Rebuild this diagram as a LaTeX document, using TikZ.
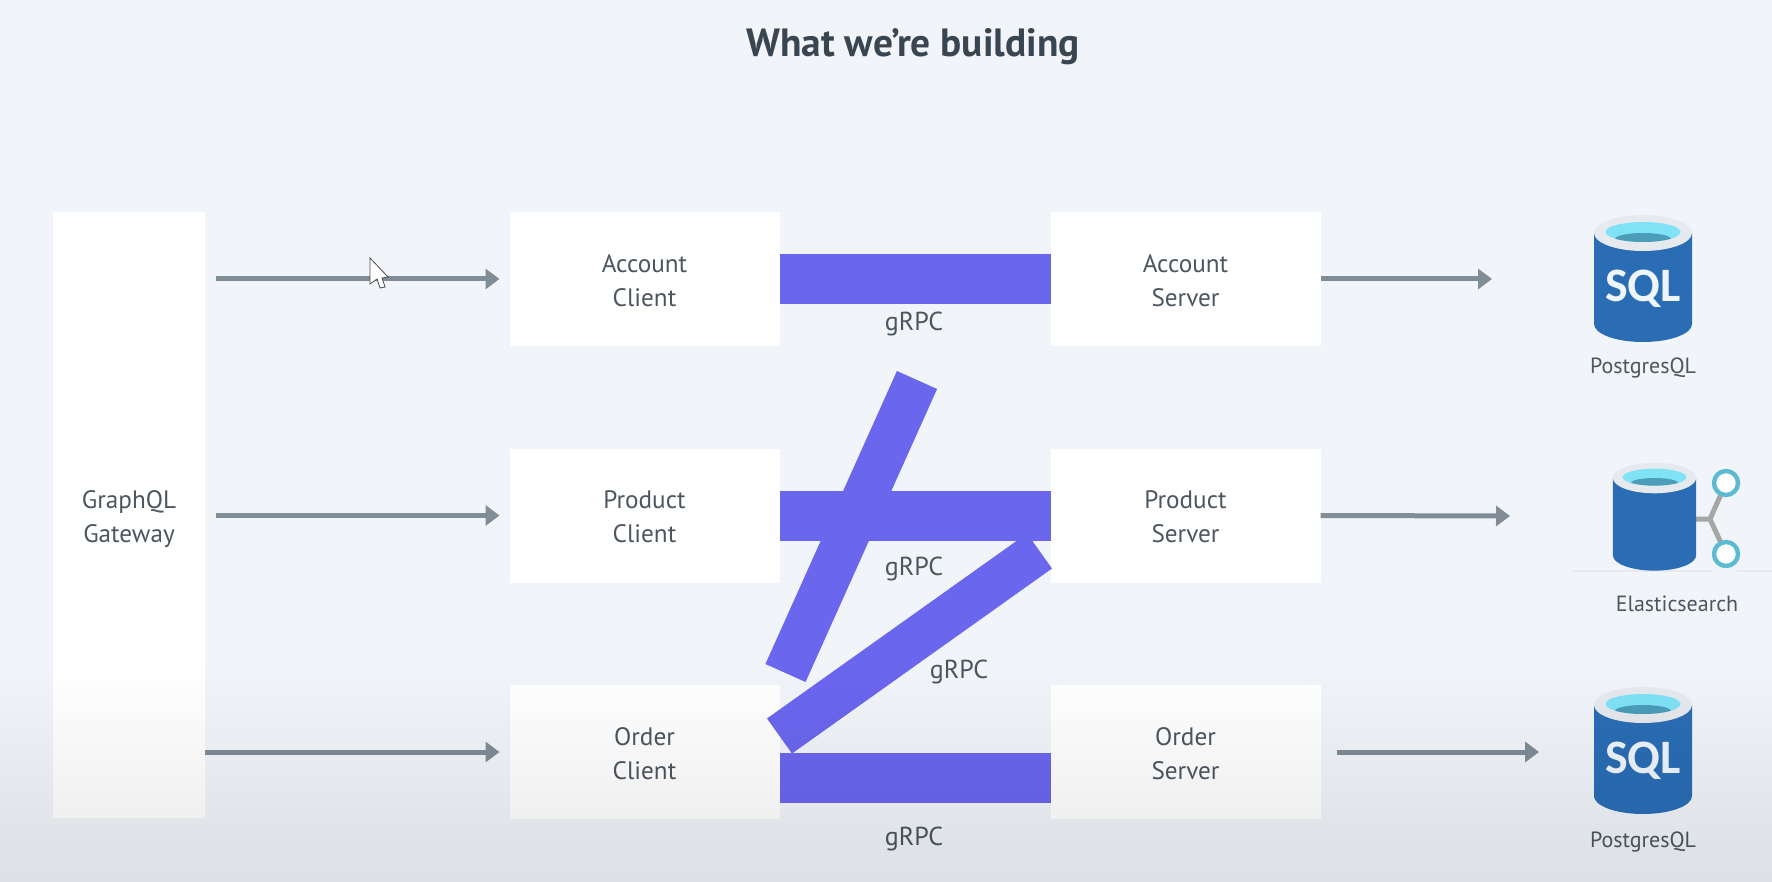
\documentclass[tikz,border=0pt]{standalone}
\usepackage{fontspec}
\setmainfont{PT Sans}
\newfontfamily\sqlfont{Carlito}
\usetikzlibrary{matrix}
\usetikzlibrary{arrows.meta, fadings}

\definecolor{bgcol}{HTML}{F1F5F9}
\definecolor{barcol}{HTML}{6B66EE}
\definecolor{arrowcol}{HTML}{808C96}
\definecolor{textcol}{HTML}{4C5660}
\definecolor{titlecol}{HTML}{3A4552}
\definecolor{candark}{HTML}{2A6DB5}
\definecolor{canmid}{HTML}{2F84D6}
\definecolor{canrim}{HTML}{E6EAEE}
\definecolor{canwater}{HTML}{7FE3F5}
\definecolor{candeep}{HTML}{4B9DB9}
\definecolor{ringcol}{HTML}{5CBBD0}

\tikzfading[name=fadedown, top color=transparent!100, bottom color=transparent!91.5]

% one database can, cx cy scale
\newcommand{\dbcan}[3]{%
	\begin{scope}[shift={(#1,#2)}, scale=#3]
		\path[left color=candark, middle color=canmid, right color=candark]
			(-49,0) -- (-49,91) arc[start angle=180, end angle=0, x radius=49, y radius=18] -- (49,0) -- cycle;
		\fill[canrim] (0,0) ellipse[x radius=49, y radius=18];
		\fill[canwater] (0,-1) ellipse[x radius=37.5, y radius=10];
		\begin{scope}
			\clip (0,-1) ellipse[x radius=37.5, y radius=10];
			\fill[candeep] (0,6) ellipse[x radius=28, y radius=6];
		\end{scope}
	\end{scope}
}

\begin{document}
\begin{tikzpicture}[x=0.5pt, y=-0.5pt,
	svcbox/.style={fill=white, minimum width=135pt, minimum height=67pt, inner sep=0pt, outer sep=0pt,
		text width=135pt, align=center, text=textcol, font=\fontsize{12.6}{17}\selectfont,
		execute at begin node={\rule{0pt}{10.4pt}}},
	flow/.style={draw=arrowcol, line width=2.5pt, -{Triangle[length=7pt, width=10pt]}},
	grpcbar/.style={draw=barcol, line width=25pt},
	tiltbar/.style={draw=barcol, line width=21.5pt},
	grpclabel/.style={text=textcol, font=\fontsize{13}{14}\selectfont},
	dblabel/.style={text=textcol, font=\fontsize{11}{12}\selectfont},
	sqltext/.style={text=white!92!canmid, font=\sqlfont\bfseries\fontsize{24}{25}\selectfont}
	]
	\useasboundingbox (0,0) rectangle (1772,882);
	\fill[bgcol] (0,0) rectangle (1772,882);

	\node (title) at (913,47) [text=titlecol, font=\bfseries\fontsize{19.7}{22}\selectfont] {What we're building};

	\node (gateway) at (129,515) [svcbox, text width=76pt, minimum width=76pt, minimum height=303pt,
		execute at begin node={\rule{0pt}{13pt}}] {GraphQL\\Gateway};

	\matrix (mat) at (509.5,212) [%
		matrix of nodes, anchor=north west, inner sep=0pt, outer sep=0pt,
		nodes={svcbox}, row sep=51.25pt, column sep=135.5pt
	]
	{%
		{Account\\Client} & {Account\\Server} \\
		{Product\\Client} & {Product\\Server} \\
		{Order\\Client} & {Order\\Server} \\
	};

	\coordinate (pgone) at (1492,279);
	\coordinate (elastic) at (1510,516);
	\coordinate (pgtwo) at (1539,752);

	\draw[flow, shorten <=5.5pt, shorten >=5pt] (gateway.east |- mat-1-1.west) -- (mat-1-1.west);
	\draw[flow, shorten <=5.5pt, shorten >=5pt] (gateway.east |- mat-2-1.west) -- (mat-2-1.west);
	\draw[flow, shorten >=5pt] (gateway.east |- mat-3-1.west) -- (mat-3-1.west);
	\draw[flow] (mat-1-2.east) -- (pgone);
	\draw[flow] (mat-2-2.east) -- (elastic);
	\draw[flow, shorten <=8pt] (mat-3-2.east) -- (pgtwo);

	% the mouse pointer
	\filldraw[fill=white, draw=black!70, line width=0.4pt] (370,258) -- (370,284) -- (377,279) -- (380,288)
		-- (385,287) -- (382,278) -- (388,277) -- cycle;

	% the straight bars
	\draw[grpcbar] (mat-1-1.east) -- (mat-1-2.west);
	\draw[grpcbar] (mat-2-1.east) -- (mat-2-2.west);
	\draw[grpcbar] ([yshift=-13pt]mat-3-1.east) -- ([yshift=-13pt]mat-3-2.west);
	% the tilted ones
	\coordinate (tiltatop) at (917,380);
	\coordinate (tiltabot) at (785.5,673);
	\coordinate (tiltbtop) at (1039.5,551);
	\coordinate (tiltbbot) at (779.5,736);
	\draw[tiltbar, line width=22pt] (tiltatop) -- (tiltabot);
	\draw[tiltbar] (tiltbtop) -- (tiltbbot);

	\node (grpca) at (914,324) [grpclabel] {gRPC};
	\node (grpcb) at (914,569) [grpclabel] {gRPC};
	\node (grpcc) at (959,672) [grpclabel] {gRPC};
	\node (grpcd) at (914,839) [grpclabel] {gRPC};

	% databases
	\draw[canrim, line width=0.6pt] (1573,571) -- (1712,571) (1737,571) -- (1772,571);
	\dbcan{1643}{233}{1}
	\node (sqlone) at (1643,289) [sqltext] {SQL};
	\node (pgonelabel) at (1643,368) [dblabel] {PostgresQL};

	\draw[black!35, line width=2.5pt] (1696,519) -- (1710,519) -- (1726,483) (1710,519) -- (1726,554);
	\dbcan{1654.5}{478}{0.85}
	\filldraw[fill=white, draw=ringcol, line width=2.2pt] (1726,483) circle[radius=12];
	\filldraw[fill=white, draw=ringcol, line width=2.2pt] (1726,554) circle[radius=12];
	\node (elasticlabel) at (1677,604) [dblabel] {Elasticsearch};

	\dbcan{1643}{705}{1}
	\node (sqltwo) at (1643,761) [sqltext] {SQL};
	\node (pgtwolabel) at (1643,842) [dblabel] {PostgresQL};

	% the player darkens the bottom
	\fill[black, path fading=fadedown] (0,665) rectangle (1772,882);
\end{tikzpicture}
\end{document}
